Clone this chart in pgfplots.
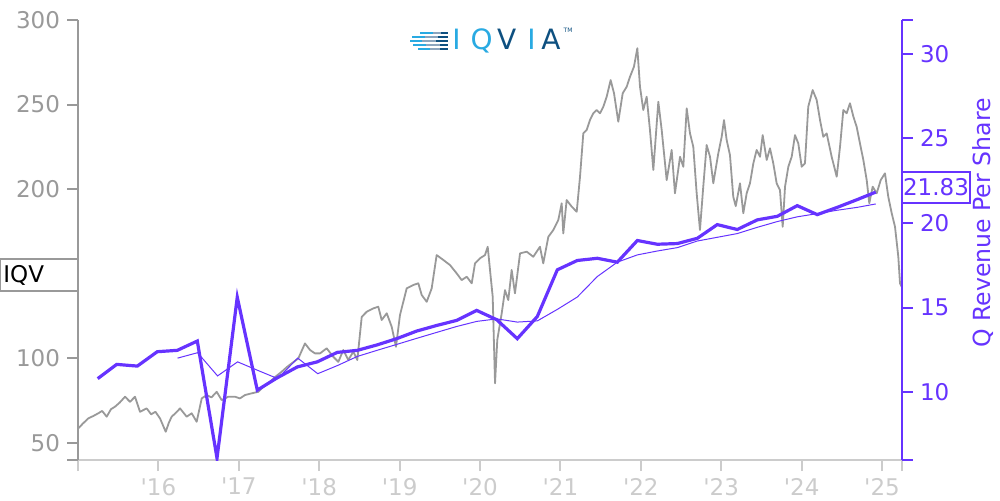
\documentclass[border=0pt]{standalone}
\usepackage{fontspec}
\setmainfont{DejaVu Sans}
\usepackage{pgfplots}
\pgfplotsset{compat=1.18}
\usepackage{pgfplotstable}
\definecolor{pgray}{RGB}{153,153,153}
\definecolor{axgray}{RGB}{153,153,153}
\definecolor{lgray}{RGB}{204,204,204}
\definecolor{purp}{RGB}{102,51,255}
\definecolor{qlight}{RGB}{41,170,226}
\definecolor{qdark}{RGB}{14,80,128}
\definecolor{qmid}{RGB}{140,165,190}

\pgfplotstableread{
x y
2015.004 58.7
2015.060 61.5
2015.128 64.6
2015.190 66.0
2015.252 67.6
2015.300 69.0
2015.357 65.6
2015.410 70.0
2015.460 71.5
2015.520 74.0
2015.585 77.4
2015.647 74.4
2015.709 77.4
2015.771 68.5
2015.854 70.5
2015.910 67.0
2015.963 68.5
2016.020 64.6
2016.091 56.7
2016.130 62.0
2016.165 65.6
2016.220 68.0
2016.269 70.5
2016.352 65.6
2016.414 67.6
2016.476 62.6
2016.539 76.4
2016.601 78.4
2016.660 77.0
2016.725 80.3
2016.787 75.4
2016.869 77.4
2016.953 77.4
2017.015 76.4
2017.077 78.4
2017.160 79.4
2017.243 80.3
2017.300 83.0
2017.367 85.3
2017.450 89.0
2017.534 92.2
2017.600 95.0
2017.658 97.1
2017.740 100.0
2017.823 108.9
2017.886 105.0
2017.948 103.0
2018.010 103.0
2018.093 106.0
2018.175 101.0
2018.238 98.0
2018.300 105.0
2018.362 99.1
2018.424 104.0
2018.474 99.1
2018.529 124.6
2018.591 127.6
2018.673 129.6
2018.735 130.6
2018.777 122.7
2018.840 126.7
2018.902 118.7
2018.955 106.9
2019.005 125.7
2019.088 141.4
2019.170 143.4
2019.233 144.4
2019.275 137.5
2019.337 133.5
2019.399 141.4
2019.461 161.1
2019.544 158.2
2019.627 155.2
2019.710 150.3
2019.772 146.3
2019.835 148.3
2019.897 144.4
2019.938 156.2
2020.000 159.2
2020.062 161.1
2020.096 166.0
2020.133 148.3
2020.158 136.5
2020.187 85.3
2020.215 110.9
2020.270 126.7
2020.311 140.4
2020.352 134.5
2020.394 152.3
2020.435 138.5
2020.498 162.1
2020.581 163.1
2020.663 160.1
2020.746 166.0
2020.787 156.2
2020.850 171.9
2020.912 175.9
2020.974 181.8
2021.016 191.7
2021.036 173.9
2021.078 193.6
2021.141 189.7
2021.203 186.7
2021.244 207.4
2021.285 233.0
2021.327 235.0
2021.368 240.9
2021.409 244.9
2021.451 246.8
2021.493 244.9
2021.534 248.8
2021.576 254.7
2021.625 264.5
2021.667 256.7
2021.720 239.9
2021.775 256.7
2021.825 260.6
2021.866 266.5
2021.915 272.4
2021.957 283.3
2021.990 260.6
2022.031 246.8
2022.073 254.7
2022.114 235.0
2022.156 211.4
2022.218 251.7
2022.260 235.0
2022.322 205.4
2022.384 223.2
2022.425 197.6
2022.488 219.2
2022.529 213.3
2022.571 247.8
2022.612 233.0
2022.653 225.1
2022.695 197.6
2022.736 175.9
2022.777 201.5
2022.819 226.1
2022.861 219.2
2022.902 203.5
2022.964 221.2
2023.006 231.0
2023.035 240.9
2023.068 229.1
2023.109 220.2
2023.150 195.6
2023.181 190.0
2023.234 203.5
2023.275 185.8
2023.317 197.6
2023.358 203.5
2023.400 215.3
2023.441 223.2
2023.483 219.2
2023.516 232.0
2023.566 217.3
2023.607 224.2
2023.648 215.3
2023.690 203.5
2023.731 199.5
2023.765 177.8
2023.794 201.5
2023.835 213.3
2023.877 219.2
2023.918 232.0
2023.959 227.1
2024.001 213.3
2024.042 215.3
2024.083 248.8
2024.138 258.6
2024.188 252.7
2024.229 240.9
2024.270 231.0
2024.312 233.0
2024.374 219.2
2024.437 207.4
2024.478 225.1
2024.519 246.8
2024.561 244.9
2024.602 250.8
2024.644 242.9
2024.685 236.9
2024.726 227.1
2024.768 217.3
2024.810 205.4
2024.842 191.7
2024.884 201.5
2024.934 197.6
2024.984 205.4
2025.037 209.4
2025.078 195.6
2025.121 185.8
2025.162 177.8
2025.203 160.1
2025.224 144.4
2025.245 142.4
}\pricetab

\pgfplotstableread{
x y
2015.245 10.81
2015.481 11.65
2015.738 11.55
2015.986 12.40
2016.235 12.48
2016.484 13.03
2016.729 6.11
2016.981 15.62
2017.230 10.13
2017.479 10.86
2017.728 11.50
2017.976 11.80
2018.225 12.36
2018.474 12.48
2018.719 12.80
2018.964 13.17
2019.213 13.62
2019.461 13.95
2019.710 14.25
2019.959 14.84
2020.208 14.29
2020.464 13.17
2020.713 14.48
2020.962 17.24
2021.210 17.79
2021.459 17.92
2021.708 17.69
2021.957 18.97
2022.205 18.75
2022.454 18.79
2022.703 19.10
2022.951 19.91
2023.200 19.62
2023.449 20.19
2023.698 20.40
2023.946 21.03
2024.195 20.50
2024.444 20.93
2024.693 21.39
2024.922 21.83
}\qtab

\pgfplotstableread{
x y
2016.238 12.02
2016.487 12.34
2016.736 10.97
2016.985 11.80
2017.234 11.30
2017.484 10.81
2017.733 12.02
2017.982 11.10
2018.231 11.59
2018.474 12.12
2018.719 12.48
2018.964 12.83
2019.213 13.19
2019.461 13.54
2019.710 13.89
2019.959 14.19
2020.208 14.34
2020.464 14.15
2020.713 14.22
2020.962 14.90
2021.210 15.63
2021.459 16.84
2021.708 17.69
2021.957 18.12
2022.205 18.35
2022.454 18.55
2022.703 18.94
2022.951 19.16
2023.200 19.38
2023.449 19.75
2023.698 20.09
2023.946 20.37
2024.195 20.56
2024.444 20.76
2024.693 20.93
2024.922 21.13
}\ttmtab

\begin{document}
\begin{tikzpicture}
\useasboundingbox (0,0) rectangle (500pt,250pt);
\begin{axis}[
  at={(39pt,20pt)}, anchor=south west,
  scale only axis, width=412pt, height=220pt,
  xmin=2015, xmax=2025.249, ymin=40, ymax=300,
  axis x line*=bottom, axis y line*=left,
  x axis line style={draw=lgray, line width=1pt, -},
  y axis line style={draw=axgray, line width=1pt, -},
  tick align=outside, major tick length=5.5pt,
  xtick={2015,2016,2017,2018,2019,2020,2021,2022,2023,2024,2025,2025.249},
  xticklabels={,\textquotesingle16,\textquotesingle17,\textquotesingle18,\textquotesingle19,\textquotesingle20,\textquotesingle21,\textquotesingle22,\textquotesingle23,\textquotesingle24,\textquotesingle25,},
  ytick={40,50,100,200,250,300},
  yticklabels={,50,100,200,250,300},
  xtick style={draw=lgray, line width=1pt},
  ytick style={draw=axgray, line width=1pt},
  tick label style={font=\fontsize{11.5}{13.8}\selectfont},
  xticklabel style={text=lgray},
  yticklabel style={text=axgray},
]
\addplot[pgray, line width=0.9pt, line join=round] table {\pricetab};
\end{axis}
\begin{axis}[
  at={(39pt,20pt)}, anchor=south west,
  scale only axis, width=412pt, height=220pt,
  xmin=2015, xmax=2025.249, ymin=6, ymax=32,
  axis y line*=right, axis x line=none,
  y axis line style={draw=purp, line width=1pt, -},
  tick align=outside, major tick length=5.5pt,
  ytick={6,10,15,20,25,30,32},
  yticklabels={,10,15,20,25,30,},
  ytick style={draw=purp, line width=1pt},
  yticklabel style={text=purp, font=\fontsize{11.5}{13.8}\selectfont},
]
\addplot[purp, line width=0.5pt] table {\ttmtab};
\addplot[purp, line width=1.6pt] table {\qtab};
\end{axis}
% labels
\draw[axgray, fill=white, line width=0.6pt] (0.3pt,104.5pt) rectangle (39pt,120.5pt);
\node[anchor=west, inner sep=0pt, font=\fontsize{11.5}{13.8}\selectfont] at (1.5pt,112.5pt) {IQV};
\draw[purp, fill=white, line width=0.6pt] (451pt,148.5pt) rectangle (485pt,164pt);
\node[purp, inner sep=0pt, font=\fontsize{11.5}{13.8}\selectfont] at (468pt,156.25pt) {21.83};
\node[purp, rotate=90, inner sep=0pt, font=\fontsize{11.8}{14}\selectfont] at (491.5pt,138.5pt) {Q Revenue Per Share};
% logo
\foreach \y/\a/\b/\c in {233.5/210/216.5/220.5, 231.5/206/212.5/219, 229.5/205/211/218, 227.5/206.5/213/220, 225.5/209/215/220}{
  \draw[qlight, line width=1.3pt] (\a pt,\y pt) -- (\b pt,\y pt);
  \draw[qmid, line width=1.3pt] (\b pt,\y pt) -- (\c pt,\y pt);
  \draw[qdark, line width=1.3pt] (\c pt,\y pt) -- (224pt,\y pt);
}
\begin{scope}[every node/.style={anchor=base, inner sep=0pt, font=\fontsize{14}{16}\selectfont}]
\node[qlight] at (228.3pt,225.5pt) {I};
\node[qlight] at (240.8pt,225.5pt) {Q};
\node[qdark] at (253.3pt,225.5pt) {V};
\node[qlight] at (265.8pt,225.5pt) {I};
\node[qdark] at (275.5pt,225.5pt) {A};
\end{scope}
\node[qdark, inner sep=0pt, font=\fontsize{3}{4}\selectfont] at (284pt,235pt) {TM};
\end{tikzpicture}
\end{document}
